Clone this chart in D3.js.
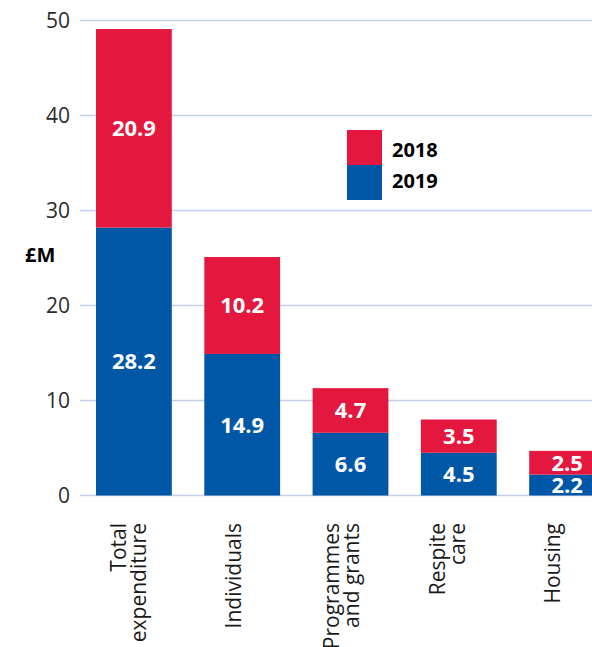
<!DOCTYPE html>
<meta charset="utf-8">
<style>
  body { margin: 0; background: #fff; }
  text { font-family: "Open Sans", sans-serif; }
</style>
<script src="https://d3js.org/d3.v7.min.js"></script>
<div id="my_dataviz"></div>
<script>
  // data
  var categories = ["Total expenditure", "Individuals", "Programmes and grants", "Respite care", "Housing"];
  var labelLines = [["Total", "expenditure"], ["Individuals"], ["Programmes", "and grants"], ["Respite", "care"], ["Housing"]];
  var values2019 = [28.2, 14.9, 6.6, 4.5, 2.2];
  var values2018 = [20.9, 10.2, 4.7, 3.5, 2.5];
  var yTicks = [0, 10, 20, 30, 40, 50];
  var seriesNames = ["2018", "2019"];

  var colors = { "2018": "#e4173e", "2019": "#0057a6" };

  var width = 592, height = 647;

  var svg = d3.select("#my_dataviz")
    .append("svg")
    .attr("width", width)
    .attr("height", height);

  var rows = categories.map(function (c, i) {
    return { cat: c, "2019": values2019[i], "2018": values2018[i] };
  });

  // X axis (bars run off the right edge like the original)
  var x = d3.scaleBand()
    .domain(categories)
    .range([96, 605])
    .paddingInner(0.3)
    .paddingOuter(0);

  // label positions drift slightly left of bar centres in the original
  var xl = d3.scalePoint()
    .domain(categories)
    .range([135, 560]);

  // Y axis
  var y = d3.scaleLinear()
    .domain([0, 50])
    .range([495.5, 20.5]);

  // gridlines
  svg.append("g")
    .selectAll("line")
    .data(yTicks)
    .enter()
    .append("line")
    .attr("x1", 80)
    .attr("x2", width)
    .attr("y1", function (d) { return y(d); })
    .attr("y2", function (d) { return y(d); })
    .attr("stroke", "#c7cee9")
    .attr("stroke-width", 1.5);

  svg.append("g")
    .selectAll("text")
    .data(yTicks)
    .enter()
    .append("text")
    .attr("x", 70)
    .attr("y", function (d) { return y(d); })
    .attr("dy", "0.36em")
    .attr("text-anchor", "end")
    .attr("fill", "#2b2b2b")
    .style("font-size", "21px")
    .text(function (d) { return d; });

  svg.append("text")
    .attr("x", 25)
    .attr("y", 262)
    .attr("fill", "#000")
    .style("font-size", "20px")
    .style("font-weight", "bold")
    .text("£M");

  // stacked bars: 2019 at bottom, 2018 on top
  var stack = d3.stack().keys(["2019", "2018"]);
  var series = stack(rows);

  var layer = svg.selectAll(".layer")
    .data(series)
    .enter()
    .append("g")
    .attr("class", "layer")
    .attr("fill", function (s) { return colors[s.key]; });

  layer.selectAll("rect")
    .data(function (s) { return s; })
    .enter()
    .append("rect")
    .attr("x", function (d) { return x(d.data.cat); })
    .attr("width", x.bandwidth())
    .attr("y", function (d) { return y(d[1]); })
    .attr("height", function (d) { return y(d[0]) - y(d[1]); });

  layer.selectAll("text")
    .data(function (s) { return s.map(function (d) { d.key = s.key; return d; }); })
    .enter()
    .append("text")
    .attr("x", function (d) { return x(d.data.cat) + x.bandwidth() / 2; })
    .attr("y", function (d) { return (y(d[0]) + y(d[1])) / 2; })
    .attr("dy", "0.36em")
    .attr("text-anchor", "middle")
    .attr("fill", "#fff")
    .style("font-size", "22px")
    .style("font-weight", "bold")
    .text(function (d) { return d.data[d.key].toFixed(1); });

  // category labels, rotated
  var lab = svg.append("g")
    .selectAll("text")
    .data(categories)
    .enter()
    .append("text")
    .attr("transform", function (d) { return "translate(" + xl(d) + ",523) rotate(-90)"; })
    .attr("text-anchor", "end")
    .attr("fill", "#1a1a1a")
    .style("font-size", "21px");

  lab.each(function (d, i) {
    var lines = labelLines[i];
    var t = d3.select(this);
    lines.forEach(function (l, j) {
      var off = lines.length === 1 ? 0 : (j === 0 ? -9 : 11);
      t.append("tspan")
        .attr("x", 0)
        .attr("y", off)
        .text(l);
    });
  });

  // legend
  var legend = svg.append("g")
    .selectAll("g")
    .data(seriesNames)
    .enter()
    .append("g")
    .attr("transform", function (d, i) { return "translate(347," + (130 + i * 35) + ")"; });

  legend.append("rect")
    .attr("width", 35)
    .attr("height", 35)
    .attr("fill", function (d) { return colors[d]; });

  legend.append("text")
    .attr("x", 45)
    .attr("y", function (d, i) { return i === 0 ? 27 : 23; })
    .attr("fill", "#000")
    .style("font-size", "20px")
    .style("font-weight", "bold")
    .text(function (d) { return d; });
</script>
